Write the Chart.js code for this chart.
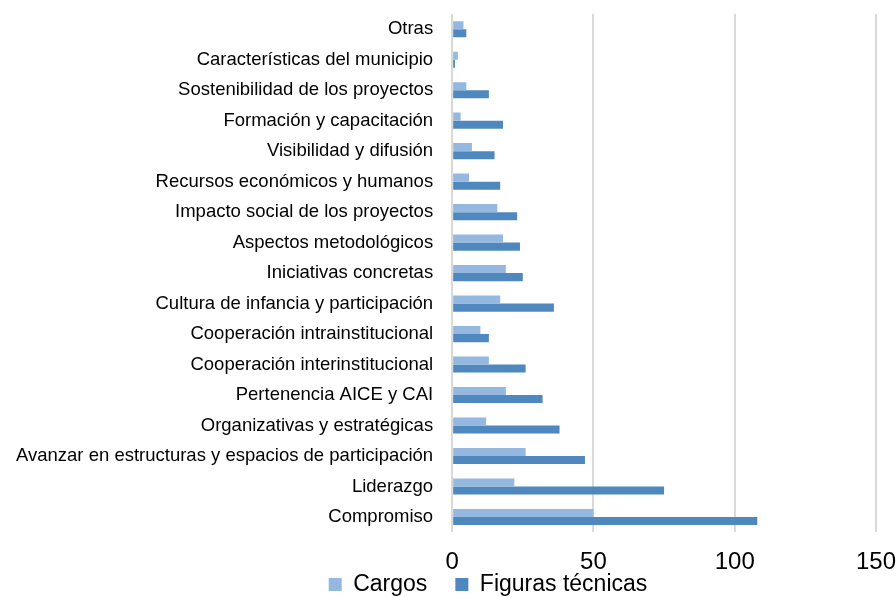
<!DOCTYPE html>
<html lang="es">
<head>
<meta charset="utf-8">
<script src="https://cdn.jsdelivr.net/npm/chart.js@4/dist/chart.umd.min.js"></script>
<style>
  html, body { margin: 0; padding: 0; background: #fff; }
  #wrap { width: 896px; height: 597px; position: relative; }
</style>
</head>
<body>
<div id="wrap"><canvas id="grafico"></canvas></div>
<script>
const categorias = [
  "Otras",
  "Características del municipio",
  "Sostenibilidad de los proyectos",
  "Formación y capacitación",
  "Visibilidad y difusión",
  "Recursos económicos y humanos",
  "Impacto social de los proyectos",
  "Aspectos metodológicos",
  "Iniciativas concretas",
  "Cultura de infancia y participación",
  "Cooperación intrainstitucional",
  "Cooperación interinstitucional",
  "Pertenencia AICE y CAI",
  "Organizativas y estratégicas",
  "Avanzar en estructuras y espacios de participación",
  "Liderazgo",
  "Compromiso"
];

const cargos = [4, 2, 5, 3, 7, 6, 16, 18, 19, 17, 10, 13, 19, 12, 26, 22, 50];
const figurasTecnicas = [5, 1, 13, 18, 15, 17, 23, 24, 25, 36, 13, 26, 32, 38, 47, 75, 108];

const ticksX = [0, 50, 100, 150];

const fuente = "'Liberation Sans', Arial, sans-serif";

// recoloca la leyenda: más a la derecha y pegada al pie
const moverLeyenda = {
  id: "moverLeyenda",
  afterLayout(chart) {
    const ley = chart.legend;
    const dy = 545 - ley.top;
    ley.top += dy;
    ley.bottom += dy;
    ley.left += 32;
    ley.right += 32;
  }
};

new Chart(document.getElementById("grafico"), {
  type: "bar",
  data: {
    labels: categorias,
    datasets: [
      {
        label: "Cargos",
        data: cargos,
        backgroundColor: "#95b8e0",
        categoryPercentage: 0.53,
        barPercentage: 1
      },
      {
        label: "Figuras técnicas",
        data: figurasTecnicas,
        backgroundColor: "#4f88be",
        categoryPercentage: 0.53,
        barPercentage: 1
      }
    ]
  },
  options: {
    indexAxis: "y",
    responsive: true,
    maintainAspectRatio: false,
    animation: false,
    layout: { padding: { top: 14, right: 0, bottom: -41, left: 16 } },
    plugins: {
      tooltip: { enabled: false },
      legend: {
        position: "bottom",
        labels: {
          color: "#000",
          font: { family: fuente, size: 23 },
          boxWidth: 13,
          boxHeight: 13,
          padding: 28
        }
      }
    },
    scales: {
      x: {
        min: 0,
        max: 150,
        afterBuildTicks(axis) {
          axis.ticks = ticksX.map(v => ({ value: v }));
        },
        // marcas invisibles: sólo separan las etiquetas del área
        grid: {
          color: "#d9d9d9",
          lineWidth: 2,
          drawTicks: true,
          tickLength: 16,
          tickColor: "rgba(0,0,0,0)"
        },
        border: { display: false },
        ticks: {
          color: "#000",
          padding: 0,
          font: { family: fuente, size: 24 }
        }
      },
      y: {
        grid: {
          color: "rgba(0,0,0,0)",
          drawTicks: true,
          tickLength: 19
        },
        border: { display: false },
        ticks: {
          color: "#000",
          padding: 0,
          autoSkip: false,
          font: { family: fuente, size: 18.5 }
        }
      }
    }
  },
  plugins: [moverLeyenda]
});
</script>
</body>
</html>
